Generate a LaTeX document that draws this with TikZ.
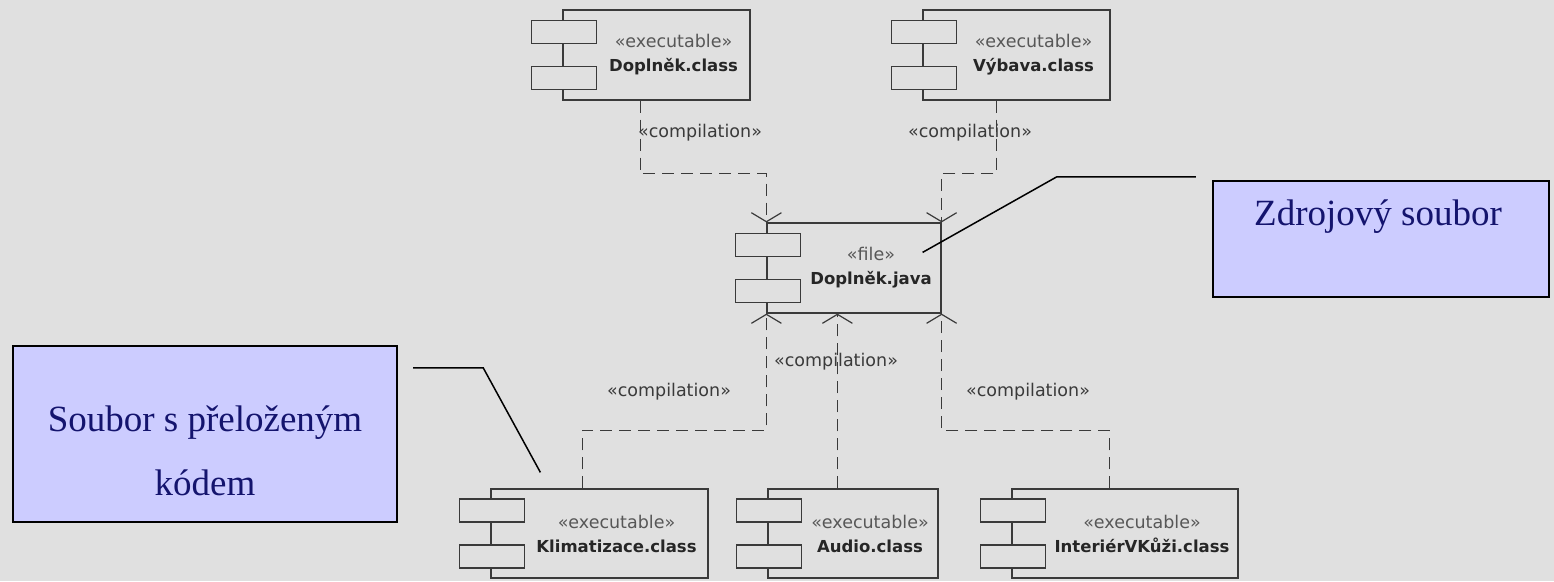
\documentclass[tikz,border=0pt]{standalone}
\usepackage{fontspec}
\setmainfont{Liberation Serif}
\newfontfamily\umlfont{DejaVu Sans}
\usepackage{tikz}
\usetikzlibrary{arrows.meta,calc}
\definecolor{Backdrop}{HTML}{E0E0E0}
\definecolor{Lavender}{HTML}{CCCCFF}
\definecolor{Navy}{HTML}{14146E}
\definecolor{Ink}{HTML}{3A3A3A}

% component: name, centre, width, height, stereotype, label
\newcommand{\umlcomp}[6]{
    \node[compbox, minimum width=#3pt, minimum height=#4pt] (#1) at (#2) {};
    \draw[Ink, line width=1.2pt, fill=Backdrop] ($(#1.west)+(-31,11.5)$) rectangle ++(65,23);
    \draw[Ink, line width=1.2pt, fill=Backdrop] ($(#1.west)+(-31,-34.5)$) rectangle ++(65,23);
    \node[umltext] (#1-t) at ($(#1.center)+(17,0)$) {{\color{Ink!85}\fontsize{17.5}{24}\selectfont #5}\\{\bfseries #6}};
}

\begin{document}
\begin{tikzpicture}[x=1pt,y=1pt,
    compbox/.style={draw=Ink, line width=1.2pt, inner sep=0pt},
    umltext/.style={align=center, text=black!85, font=\umlfont\fontsize{16.5}{24}\selectfont},
    stereo/.style={text=Ink, font=\umlfont\fontsize{17.5}{20}\selectfont},
    dep/.style={draw=Ink, line width=1.2pt, dash pattern=on 12pt off 7pt,
        -{Straight Barb[length=9pt,width=30pt,line width=1.2pt]}},
    note/.style={draw=black, line width=2.4pt, fill=Lavender, inner sep=0pt},
    notetext/.style={text=Navy, font=\fontsize{37}{44}\selectfont},
    pointer/.style={draw=black, line width=1.5pt}]

    \fill[Backdrop] (0,0) rectangle (1554,-581);
    \useasboundingbox (0,0) rectangle (1554,-581);

    % components
    \umlcomp{doplnekC}{656.5,-55}{187}{90}{«executable»}{Doplněk.class}
    \umlcomp{vybavaC}{1016.5,-55}{187}{90}{«executable»}{Výbava.class}
    \umlcomp{javaF}{854,-268}{174}{90}{«file»}{Doplněk.java}
    \umlcomp{klimaC}{599.5,-533.5}{217}{89}{«executable»}{Klimatizace.class}
    \umlcomp{audioC}{853,-533.5}{170}{89}{«executable»}{Audio.class}
    \umlcomp{interierC}{1125,-533.5}{226}{89}{«executable»}{InteriérVKůži.class}

    % dependencies
    \draw[dep] ([xshift=78pt]doplnekC.south west) -- ++(0,-73) -| (javaF.north west);
    \draw[dep] ([xshift=74pt]vybavaC.south west) -- ++(0,-73) -| (javaF.north east);
    \draw[dep] ([xshift=92pt]klimaC.north west) -- ++(0,58) -| (javaF.south west);
    \coordinate (audioIn) at ([xshift=71pt]javaF.south west);
    \draw[dep] (audioC.north -| audioIn) -- (audioIn);
    \draw[dep] ([xshift=98pt]interierC.north west) -- ++(0,58) -| (javaF.south east);

    \node[stereo] (lblA) at (700,-133) {«compilation»};
    \node[stereo] (lblB) at (970,-133) {«compilation»};
    \node[stereo] (lblC) at (669,-392) {«compilation»};
    \node[stereo] (lblD) at (836,-362) {«compilation»};
    \node[stereo] (lblE) at (1028,-392) {«compilation»};

    % notes
    \node[note, minimum width=336pt, minimum height=116pt] (noteR) at (1381,-239) {};
    \node[notetext, anchor=base] (noteRt) at (1378,-225) {Zdrojový soubor};
    \node[note, minimum width=384pt, minimum height=176pt] (noteL) at (205,-434) {};
    \node[notetext, anchor=base] (noteLa) at (205,-431) {Soubor s přeloženým};
    \node[notetext, anchor=base] (noteLb) at (205,-495) {kódem};

    \draw[pointer] ($(noteR.north west)+(-16,3)$) -- ++(-139,0) -- ($(javaF.north east)+(-19,-30)$);
    \draw[pointer] ($(noteL.north east)+(15,-23)$) -- ++(70,0) -- ($(klimaC.north west)+(50,16)$);
\end{tikzpicture}
\end{document}
